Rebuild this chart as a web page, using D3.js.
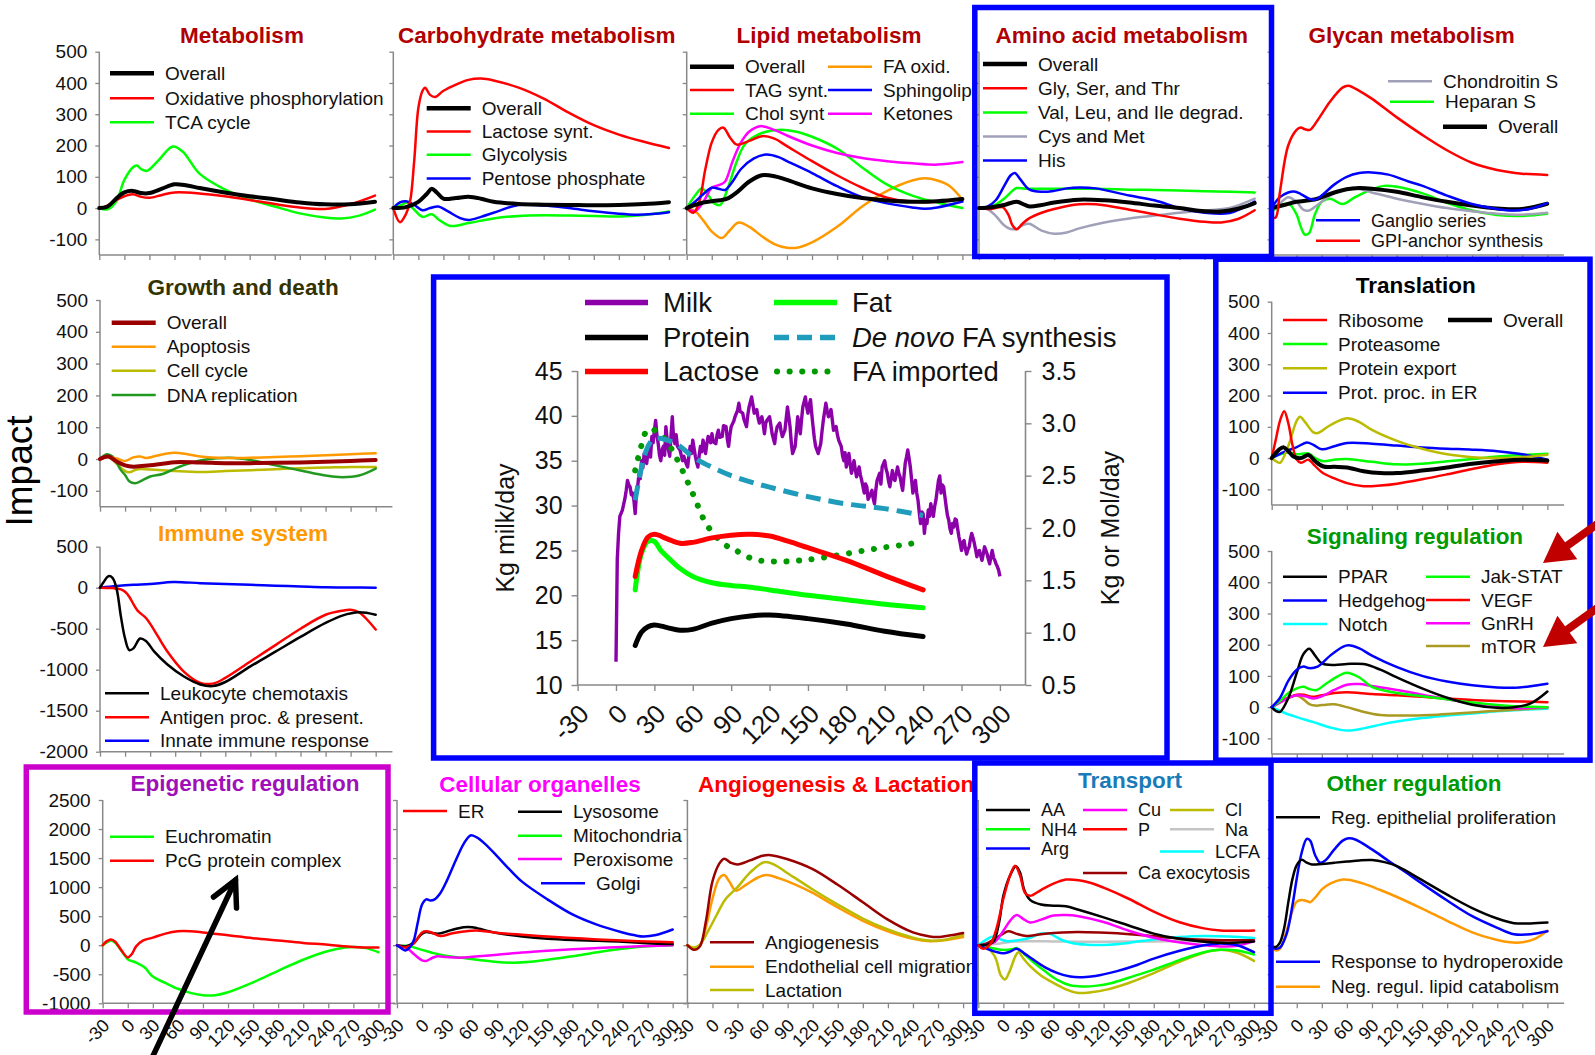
<!DOCTYPE html>
<html>
<head>
<meta charset="utf-8">
<script src="https://cdn.jsdelivr.net/npm/d3@7"></script>
<style>
  body { margin: 0; background: #ffffff; }
  svg { display: block; font-family: "Liberation Sans", Arial, sans-serif; }
</style>
</head>
<body>
<svg id="chart" width="1595" height="1055"></svg>
<script>
// ---------- tick values ----------
const dayTicks = [-30, 0, 30, 60, 90, 120, 150, 180, 210, 240, 270, 300];
const impactTicks = [-100, 0, 100, 200, 300, 400, 500];
const immuneTicks = [-2000, -1500, -1000, -500, 0, 500];
const wideTicks = [-1000, -500, 0, 500, 1000, 1500, 2000, 2500];
const milkTicks = [10, 15, 20, 25, 30, 35, 40, 45];
const molTicks = [0.5, 1.0, 1.5, 2.0, 2.5, 3.0, 3.5];

// ---------- series: [day, impact] ----------
// Metabolism
const metOverall = [[-30,0],[-20,5],[-10,30],[0,50],[10,55],[20,48],[30,48],[45,62],[60,76],[75,72],[90,64],[120,50],[150,38],[180,28],[210,18],[240,12],[270,12],[300,20]];
const metOxPhos = [[-30,0],[-20,8],[-10,25],[0,38],[10,44],[20,36],[30,33],[45,42],[60,50],[90,47],[120,38],[150,26],[180,13],[210,2],[240,-3],[270,12],[300,40]];
const metTCA = [[-30,0],[-20,-4],[-10,20],[0,90],[10,130],[15,136],[20,125],[27,119],[40,150],[58,197],[70,180],[90,110],[120,60],[150,28],[180,5],[210,-17],[240,-30],[260,-33],[280,-25],[300,-5]];
// Carbohydrate metabolism
const carbOverall = [[-30,0],[-15,3],[0,20],[10,45],[16,62],[22,50],[30,30],[45,32],[60,36],[75,30],[90,20],[120,13],[150,11],[180,10],[210,9],[240,10],[270,13],[300,19]];
const carbLactose = [[-30,0],[-22,-45],[-15,-20],[-10,20],[-5,150],[0,320],[5,375],[8,385],[14,362],[20,355],[30,375],[45,395],[60,410],[75,414],[90,408],[120,385],[150,350],[180,305],[210,265],[240,235],[270,212],[300,192]];
const carbGlycolysis = [[-30,0],[-20,10],[-14,18],[-5,-5],[5,-28],[16,-20],[25,-38],[38,-57],[60,-48],[90,-33],[120,-25],[150,-23],[180,-24],[210,-25],[240,-27],[270,-22],[300,-11]];
const carbPentose = [[-30,0],[-22,18],[-15,22],[-5,10],[5,-7],[14,0],[24,5],[35,-10],[50,-32],[60,-38],[75,-28],[90,-15],[120,10],[150,8],[180,0],[210,-10],[240,-18],[260,-21],[280,-19],[300,-13]];
// Lipid metabolism
const lipOverall = [[-30,0],[-20,10],[-10,18],[0,22],[10,25],[20,32],[30,50],[45,85],[60,105],[75,102],[90,90],[120,63],[150,45],[180,32],[210,24],[240,20],[270,22],[300,29]];
const lipTAG = [[-30,0],[-22,-15],[-15,20],[-8,120],[0,210],[8,250],[14,257],[22,225],[30,203],[45,215],[60,230],[75,222],[90,198],[120,150],[150,105],[180,65],[210,33],[240,20],[270,20],[300,30]];
const lipChol = [[-30,0],[-20,40],[-12,63],[-5,45],[3,15],[10,10],[20,70],[30,150],[40,205],[60,240],[80,250],[100,245],[120,228],[150,190],[180,130],[210,75],[240,40],[270,18],[300,0]];
const lipFAox = [[-30,0],[-20,-10],[-10,-40],[0,-75],[12,-96],[22,-70],[32,-46],[45,-60],[60,-90],[75,-115],[90,-127],[105,-125],[120,-110],[150,-60],[180,5],[210,55],[240,88],[255,95],[270,88],[285,70],[300,27]];
const lipSphingo = [[-30,0],[-20,20],[-10,45],[0,65],[8,62],[16,58],[25,85],[35,125],[50,158],[65,171],[80,163],[90,150],[120,112],[150,70],[180,35],[210,15],[240,2],[255,-2],[270,2],[300,21]];
const lipKetones = [[-30,0],[-20,-10],[-10,20],[0,65],[10,75],[16,85],[25,150],[35,210],[45,245],[58,262],[75,250],[90,232],[120,200],[150,176],[180,160],[210,150],[240,143],[270,139],[300,147]];
// Amino acid metabolism
const aaOverall = [[-30,0],[-15,3],[0,10],[15,20],[25,10],[31,5],[45,10],[60,18],[90,27],[120,25],[150,18],[180,8],[210,0],[240,-10],[260,-11],[280,-2],[300,16]];
const aaGlySerThr = [[-30,0],[-15,-3],[-2,3],[5,-20],[10,-55],[15,-68],[22,-50],[30,-33],[45,-15],[60,-3],[90,12],[110,12],[150,-5],[180,-20],[210,-34],[240,-44],[260,-46],[280,-35],[300,-7]];
const aaValLeuIle = [[-30,0],[-15,5],[0,30],[10,55],[15,64],[25,62],[45,62],[60,62],[90,62],[120,61],[150,59],[180,58],[210,56],[240,54],[270,52],[300,50]];
const aaCysMet = [[-30,0],[-20,-3],[-10,-25],[0,-55],[7,-66],[15,-67],[22,-55],[30,-50],[45,-72],[60,-82],[75,-78],[90,-65],[120,-46],[150,-33],[180,-24],[210,-15],[240,-8],[270,0],[300,30]];
const aaHis = [[-30,0],[-20,5],[-10,25],[0,70],[8,105],[13,112],[20,90],[30,60],[45,52],[60,55],[75,63],[90,66],[110,63],[150,40],[180,25],[210,0],[240,-15],[270,-16],[300,21]];
// Glycan metabolism
const glyChondroitin = [[-30,0],[-20,15],[-10,35],[0,20],[8,-5],[15,-8],[25,10],[40,40],[55,58],[68,64],[90,50],[120,30],[150,14],[180,0],[210,-10],[240,-18],[270,-21],[300,-15]];
const glyHeparan = [[-30,-10],[-20,5],[-10,15],[0,-20],[5,-60],[10,-85],[15,-80],[22,-20],[30,20],[40,30],[55,13],[70,35],[90,60],[105,71],[120,68],[150,48],[180,17],[210,-8],[240,-22],[270,-25],[300,-18]];
const glyOverall = [[-30,0],[-15,10],[0,20],[15,25],[25,30],[40,45],[60,60],[75,64],[90,62],[120,52],[150,35],[180,20],[210,8],[240,-1],[270,-3],[300,14]];
const glyGanglio = [[-30,0],[-20,35],[-10,50],[-3,53],[5,45],[15,30],[22,27],[30,40],[45,75],[60,100],[75,112],[90,114],[110,107],[134,85],[150,72],[180,40],[210,13],[240,-3],[260,-8],[280,-2],[300,16]];
const glyGPI = [[-30,-30],[-25,-30],[-20,50],[-10,200],[0,250],[5,258],[10,252],[16,250],[25,280],[40,340],[55,385],[62,391],[75,375],[90,350],[120,290],[150,235],[180,185],[210,145],[240,122],[270,110],[300,106]];
// Growth and death
const gdOverall = [[-30,0],[-20,8],[-10,-8],[0,-20],[10,-24],[20,-22],[30,-20],[45,-15],[60,-10],[90,-11],[120,-13],[150,-13],[180,-12],[210,-11],[240,-9],[270,-6],[300,-3]];
const gdApoptosis = [[-30,0],[-20,6],[-10,2],[0,-6],[10,5],[18,8],[25,3],[40,12],[58,20],[75,15],[90,8],[120,3],[150,4],[180,6],[210,9],[240,12],[270,15],[300,18]];
const gdCellCycle = [[-30,0],[-20,8],[-10,-15],[0,-38],[5,-42],[15,-32],[30,-33],[60,-38],[90,-41],[120,-38],[150,-35],[180,-32],[210,-29],[240,-27],[270,-25],[300,-25]];
const gdDNA = [[-30,0],[-22,15],[-15,8],[-5,-35],[0,-50],[5,-70],[12,-76],[20,-68],[30,-55],[45,-47],[60,-30],[75,-15],[90,-5],[110,2],[125,4],[150,-3],[180,-20],[210,-36],[240,-52],[260,-57],[280,-52],[300,-30]];
// Immune system
const imLeuko = [[-30,0],[-25,80],[-20,140],[-15,120],[-10,-20],[-5,-350],[0,-620],[5,-760],[10,-740],[18,-620],[25,-650],[35,-780],[50,-930],[70,-1080],[90,-1180],[105,-1200],[120,-1150],[150,-960],[180,-780],[210,-600],[240,-430],[260,-340],[280,-300],[300,-330]];
const imAntigen = [[-30,0],[-15,-5],[-5,-20],[0,-50],[5,-110],[10,-200],[15,-280],[25,-370],[35,-520],[50,-770],[70,-1020],[90,-1160],[105,-1170],[120,-1100],[150,-900],[180,-700],[210,-500],[240,-330],[260,-280],[270,-270],[280,-300],[300,-510]];
const imInnate = [[-30,0],[-10,20],[10,35],[30,45],[58,70],[90,55],[120,45],[150,35],[180,25],[210,15],[240,5],[270,2],[300,0]];
// Translation
const trRibosome = [[-30,0],[-25,60],[-20,120],[-15,150],[-10,110],[-5,40],[0,-5],[5,-15],[14,-5],[20,-20],[30,-45],[45,-65],[60,-80],[80,-90],[100,-88],[120,-82],[150,-68],[180,-52],[210,-35],[240,-20],[270,-12],[300,-15]];
const trProteasome = [[-30,0],[-20,12],[-10,18],[0,12],[14,15],[22,0],[32,-10],[45,-5],[60,-3],[90,-12],[120,-20],[150,-18],[180,-10],[210,-3],[240,5],[270,10],[300,14]];
const trExport = [[-30,0],[-25,-10],[-20,-15],[-10,40],[0,120],[4,132],[10,115],[20,82],[25,80],[40,105],[60,127],[75,115],[90,90],[120,55],[150,30],[180,12],[210,3],[240,0],[270,3],[300,11]];
const trER = [[-30,0],[-15,20],[0,35],[12,50],[20,42],[30,28],[45,38],[60,48],[90,46],[120,40],[150,34],[180,30],[210,27],[240,22],[270,12],[300,-5]];
const trOverall = [[-30,0],[-22,25],[-16,35],[-10,22],[-4,5],[5,0],[14,10],[22,-10],[32,-27],[45,-28],[60,-30],[80,-42],[100,-48],[120,-48],[150,-40],[180,-30],[210,-18],[240,-10],[270,-5],[300,-8]];
// Signaling regulation
const sgPPAR = [[-30,0],[-25,-12],[-20,-15],[-10,30],[0,110],[8,170],[15,187],[22,165],[30,140],[45,135],[60,138],[80,138],[100,120],[120,95],[150,60],[180,30],[210,8],[240,-2],[260,0],[280,12],[300,50]];
const sgHedgehog = [[-30,0],[-20,30],[-10,85],[0,120],[8,130],[15,125],[25,130],[40,165],[55,193],[62,198],[75,188],[90,165],[120,128],[150,100],[180,82],[210,70],[240,63],[260,62],[280,67],[300,75]];
const sgNotch = [[-30,0],[-15,-18],[0,-32],[20,-48],[40,-65],[60,-75],[80,-68],[100,-56],[120,-46],[150,-35],[180,-27],[210,-20],[240,-13],[270,-8],[300,-5]];
const sgJakStat = [[-30,0],[-20,20],[-10,45],[0,60],[8,65],[15,58],[24,55],[35,75],[50,100],[60,110],[75,95],[90,65],[120,45],[150,35],[180,25],[210,15],[240,7],[270,2],[300,0]];
const sgVEGF = [[-30,0],[-20,18],[-10,30],[0,40],[8,40],[18,33],[30,38],[45,45],[60,48],[90,42],[120,38],[150,33],[180,28],[210,23],[240,20],[270,18],[300,16]];
const sgGnRH = [[-30,0],[-20,15],[-10,30],[0,38],[10,35],[20,28],[30,35],[45,55],[60,72],[75,74],[90,68],[120,55],[150,40],[180,25],[210,12],[240,2],[260,-3],[280,-2],[300,0]];
const sgMTOR = [[-30,0],[-20,15],[-10,30],[0,37],[8,25],[15,10],[22,5],[35,8],[45,9],[60,0],[80,-15],[100,-25],[130,-27],[160,-25],[190,-20],[220,-15],[250,-10],[280,-5],[300,-2]];
// Epigenetic regulation
const epEuchromatin = [[-30,0],[-25,50],[-20,80],[-15,40],[-5,-150],[0,-240],[10,-300],[20,-380],[30,-540],[45,-650],[60,-750],[75,-820],[90,-860],[105,-860],[120,-810],[150,-640],[180,-440],[210,-250],[240,-100],[260,-40],[270,-30],[285,-50],[300,-120]];
const epPcG = [[-30,0],[-25,70],[-20,100],[-15,60],[-8,-80],[0,-210],[5,-150],[10,-20],[18,80],[30,130],[45,200],[60,240],[75,240],[90,220],[120,170],[150,120],[180,80],[210,40],[240,10],[270,-30],[300,-40]];
// Cellular organelles
const coER = [[-30,0],[-20,-40],[-10,30],[0,220],[5,240],[12,215],[22,160],[35,200],[50,235],[65,252],[80,230],[100,200],[120,180],[150,150],[180,125],[210,100],[240,80],[270,65],[300,52]];
const coLysosome = [[-30,0],[-20,-20],[-10,40],[0,200],[5,228],[12,210],[20,200],[35,260],[50,310],[60,310],[75,260],[90,210],[120,150],[150,110],[180,88],[210,75],[240,60],[270,35],[300,20]];
const coMito = [[-30,0],[-15,-20],[0,-80],[15,-140],[30,-185],[50,-220],[70,-260],[90,-290],[110,-300],[130,-285],[150,-250],[180,-190],[210,-120],[240,-60],[270,-20],[300,0]];
const coPerox = [[-30,0],[-20,-30],[-10,-150],[0,-260],[5,-270],[12,-220],[18,-190],[30,-205],[45,-215],[60,-200],[90,-165],[120,-125],[150,-95],[180,-70],[210,-50],[240,-30],[270,-15],[300,0]];
const coGolgi = [[-30,0],[-25,-50],[-20,-90],[-15,-40],[-10,80],[-5,400],[0,700],[5,790],[10,770],[15,790],[22,900],[30,1120],[40,1450],[50,1750],[58,1890],[65,1860],[75,1750],[90,1530],[105,1300],[120,1090],[150,790],[180,530],[210,350],[240,220],[255,170],[265,150],[280,175],[300,270]];
// Angiogenesis & Lactation
const anAngio = [[-30,0],[-22,-80],[-15,-20],[-8,400],[0,1100],[8,1400],[14,1490],[22,1420],[30,1390],[45,1460],[60,1540],[70,1550],[90,1480],[120,1310],[150,1040],[180,740],[210,440],[240,220],[260,150],[270,140],[285,170],[300,210]];
const anEndo = [[-30,0],[-22,-60],[-15,0],[-8,300],[0,800],[8,1150],[14,1210],[20,1100],[28,940],[40,1040],[55,1170],[65,1210],[80,1150],[100,1040],[120,900],[150,650],[180,420],[210,240],[240,110],[260,70],[280,90],[300,140]];
const anLact = [[-30,0],[-22,-40],[-15,10],[-5,250],[5,520],[15,780],[30,1000],[45,1250],[62,1430],[75,1380],[90,1240],[120,960],[150,700],[180,460],[210,270],[240,130],[260,80],[280,100],[300,180]];
// Transport
const tpAA = [[-30,0],[-20,10],[-12,60],[-5,400],[0,850],[8,1200],[15,1360],[20,1250],[25,950],[32,780],[45,700],[60,680],[75,670],[90,610],[120,480],[150,340],[180,200],[210,110],[240,60],[270,40],[300,65]];
const tpNH4 = [[-30,0],[-20,-30],[-10,-60],[0,-80],[10,-70],[16,-50],[25,-150],[35,-280],[50,-450],[65,-600],[80,-690],[95,-710],[110,-700],[130,-650],[150,-560],[180,-420],[210,-260],[240,-120],[260,-80],[280,-90],[300,-160]];
const tpArg = [[-30,0],[-20,-60],[-10,-110],[0,-140],[8,-110],[16,-60],[25,-140],[35,-240],[50,-380],[65,-480],[80,-540],[95,-550],[110,-530],[135,-450],[160,-340],[180,-230],[210,-100],[240,0],[260,30],[280,0],[300,-120]];
const tpCu = [[-30,0],[-20,10],[-10,60],[0,250],[8,420],[16,520],[24,450],[32,390],[45,440],[60,510],[75,520],[90,500],[120,400],[150,250],[180,130],[210,50],[240,0],[260,-20],[280,-10],[300,70]];
const tpP = [[-30,0],[-24,-60],[-15,30],[-8,300],[0,800],[8,1200],[14,1370],[20,1200],[26,900],[32,850],[45,950],[60,1060],[75,1130],[90,1120],[105,1070],[120,990],[150,800],[180,580],[210,400],[240,290],[260,255],[280,250],[300,255]];
const tpCaExo = [[-30,0],[-20,30],[-10,110],[0,200],[6,240],[15,200],[28,160],[45,190],[60,210],[80,225],[100,225],[130,210],[160,180],[190,140],[220,105],[250,90],[280,85],[300,85]];
const tpCl = [[-30,0],[-20,-40],[-10,-200],[-3,-520],[2,-590],[8,-430],[14,-200],[18,-120],[24,-230],[32,-360],[45,-520],[60,-650],[75,-760],[88,-820],[105,-810],[125,-760],[150,-650],[180,-480],[210,-290],[240,-130],[260,-80],[280,-130],[300,-270]];
const tpNa = [[-30,0],[-10,20],[10,60],[30,70],[60,65],[90,60],[120,60],[150,62],[180,65],[210,68],[240,70],[270,70],[300,70]];
const tpLCFA = [[-30,0],[-20,100],[-12,150],[-5,110],[4,70],[15,80],[30,120],[45,200],[55,200],[70,90],[85,30],[100,10],[120,5],[150,40],[180,100],[210,140],[240,160],[270,150],[300,125]];
// Other regulation
const orEpith = [[-30,-20],[-25,-30],[-20,50],[-15,300],[-10,750],[-5,1150],[0,1380],[6,1470],[12,1420],[18,1390],[30,1400],[45,1420],[60,1440],[75,1460],[90,1465],[105,1430],[120,1360],[150,1120],[180,870],[210,640],[240,460],[260,380],[280,375],[300,390]];
const orHydro = [[-30,-30],[-25,-60],[-20,-40],[-12,200],[-5,700],[0,1150],[6,1600],[12,1830],[16,1800],[22,1550],[28,1420],[35,1470],[45,1650],[55,1800],[62,1840],[70,1820],[90,1650],[110,1450],[130,1260],[150,1060],[180,770],[210,500],[240,300],[260,190],[280,190],[300,240]];
const orLipidCat = [[-30,-30],[-25,-90],[-20,-60],[-12,250],[-5,600],[0,750],[6,780],[12,760],[16,740],[22,820],[30,960],[40,1060],[55,1130],[65,1120],[80,1060],[100,950],[120,830],[150,630],[180,420],[210,220],[240,90],[255,50],[270,50],[285,110],[300,250]];

// ---------- lactation curve: [day, kg/day] (left axis) and [day, kg or mol/day] (right axis) ----------
const milkYield = [[0,12.6],[1,24],[2,26.9],[3,28.8],[5,29.5],[7,30.8],[8,31.7],[9,32.8],[10,32.3],[11,32.1],[12,31.2],[13,31.4],[14,30.6],[15,29.1],[16,31.4],[17,32.2],[18,33.6],[19,33.0],[20,35],[21,34.2],[22,35.8],[23,35.1],[24,34.7],[25,36.0],[26,36.2],[27,35.4],[28,37.7],[29,37.0],[30,38.4],[31,39.5],[32,37.8],[33,36.9],[34,35.6],[35,35],[36,36.2],[37,36.6],[38,35.6],[39,38.8],[40,37.3],[41,36.2],[42,35.5],[43,37.8],[44,39.9],[45,37.5],[46,36.9],[47,37.9],[48,36.6],[50,36.2],[52,35.0],[53,35.5],[55,34.6],[56,34.3],[57,35.6],[58,36.6],[59,35.8],[60,37.3],[61,36.4],[62,35.5],[63,34.8],[64,34.3],[65,35.6],[66,36.6],[67,36.0],[68,37.3],[69,36.6],[70,35.8],[71,36.9],[72,37.7],[74,37.0],[75,38],[76,37.1],[78,36.9],[79,37.9],[80,38.4],[81,37.6],[83,37.7],[84,38.9],[86,38.8],[87,37.4],[88,36.6],[89,37.9],[90,38.8],[92,39.4],[93,39.9],[95,40.6],[96,41.4],[97,40.5],[99,40.3],[100,39.6],[102,38.8],[103,40.1],[104,41],[106,42.1],[107,41.2],[108,40.3],[110,40.7],[111,39.8],[112,39.2],[114,39.9],[115,39.1],[116,38],[117,39.2],[118,39.5],[120,39.9],[121,39.0],[122,38],[124,36.9],[125,38.1],[126,38.8],[128,39.2],[129,38.3],[130,37.7],[132,38.4],[134,41],[135,39.9],[136,38.8],[137,37.0],[138,35.8],[140,36.6],[141,38.2],[142,39.9],[144,38],[145,39.6],[146,41],[148,42.1],[149,41.0],[150,40.3],[151,41.2],[152,41.8],[153,40.2],[154,38.8],[155,37.5],[156,36.6],[158,35.8],[160,36.9],[161,38.3],[162,39.5],[164,41.4],[165,40.6],[166,39.9],[168,40.7],[169,39.6],[170,38.4],[172,38.8],[173,37.9],[174,37.3],[176,36.6],[177,35.6],[178,35],[179,35.9],[180,34.3],[182,35.8],[183,34.6],[184,33.6],[186,35],[187,34.0],[188,33.2],[190,34.3],[191,33.4],[192,32.8],[194,31.4],[195,32.4],[196,32.1],[197,30.7],[198,31],[200,31.7],[201,30.8],[202,30.2],[203,31.7],[204,32.8],[206,33.6],[207,32.4],[208,34.3],[210,35],[211,34.1],[212,33.6],[213,32.7],[214,32.1],[216,33.9],[217,33.0],[218,32.8],[220,34.3],[221,33.6],[222,33.2],[223,32.4],[224,31.7],[225,33.2],[226,34.7],[227,35.4],[228,36.2],[229,35.3],[230,34.3],[231,32.9],[232,31.4],[233,32.1],[234,32.8],[235,31.4],[236,30.6],[237,29.2],[238,28],[239,29.3],[240,29.1],[241,26.9],[242,28.4],[243,28.0],[244,29.5],[245,28.8],[246,30.2],[247,29.4],[248,28.8],[249,29.9],[250,30.6],[251,31.7],[252,32.8],[253,33.3],[254,31.4],[255,32.3],[256,32.1],[257,31.0],[258,29.9],[259,28.9],[260,28.4],[261,27.4],[262,26.9],[263,28.0],[264,27.6],[265,28.5],[266,28.4],[267,27.4],[268,26.5],[269,25.8],[270,25],[271,25.9],[272,26.1],[273,25.2],[274,24.6],[275,25.1],[276,25.4],[277,26.3],[278,26.9],[279,26.4],[280,25.8],[281,25.1],[282,24.3],[283,24.9],[284,25],[285,24.4],[286,23.9],[287,24.6],[288,25.4],[289,25.0],[290,24.6],[291,24.0],[292,23.5],[293,24.3],[294,25],[295,24.2],[296,23.9],[297,23.5],[298,23.2],[299,22.8],[300,22.1]];
const lactoseYield = [[15,22.1],[20,25],[25,26.5],[30,26.8],[40,26.3],[50,25.8],[60,25.9],[75,26.4],[90,26.7],[105,26.8],[120,26.6],[135,26],[150,25.3],[180,23.9],[210,22.2],[240,20.6]];
const fatYield = [[15,20.6],[20,24.7],[25,26],[30,26],[35,25],[40,24.3],[50,23],[60,22.1],[75,21.4],[90,21.1],[105,20.9],[120,20.6],[150,20],[180,19.5],[210,19],[240,18.6]];
const proteinYield = [[15,14.4],[20,15.9],[25,16.5],[30,16.7],[40,16.4],[50,16.1],[60,16.2],[75,16.9],[90,17.4],[105,17.7],[120,17.8],[150,17.4],[180,16.8],[210,16],[240,15.4]];
const deNovoFA = [[15,2.265],[20,2.58],[25,2.78],[30,2.855],[40,2.84],[50,2.78],[60,2.68],[75,2.58],[90,2.5],[105,2.44],[120,2.39],[150,2.3],[180,2.23],[210,2.185],[240,2.12]];
const importedFA = [[15,2.55],[19,2.75],[24,2.93],[28,2.95],[33,2.9],[39,2.84],[45,2.72],[50,2.6],[60,2.33],[71,2.03],[84,1.85],[93,1.79],[108,1.7],[125,1.68],[144,1.69],[164,1.72],[187,1.77],[207,1.81],[225,1.84],[240,1.87]];

// ---------- colours ----------
const K = "#000000", R = "#ff0000", G = "#00ff00", B = "#0000ff", O = "#ff9900", M = "#ff00ff";
const GRY = "#a0a0b8", DR = "#990000", OL = "#bbbb00", DG = "#229a22", CY = "#00ffff", MT = "#aa9a22", LG = "#c4c4c4";
const FRAME_BLUE = "#0000ff", FRAME_PURPLE = "#cc00cc";

const svg = d3.select("#chart");
const FONT = '"Liberation Sans", Arial, sans-serif';
const AXIS = "#888888";
const SPAN = 292.4;          // pixel width of the -30..320 day range in the small panels
const X_DOMAIN = [-30, 320];
const plain = d => String(d);   // ASCII hyphen for negative labels

// ---------- panel layout ----------
const SMALL = [-150, 500];
const panels = [
  { title: "Metabolism", tc: "#b00000", tx: 242, ty: 43, x0: 99.3, yr: [255, 51.7], dom: SMALL, yt: impactTicks, yl: true, xl: false,
    series: [[metTCA, G, 2.5], [metOxPhos, R, 2.5], [metOverall, K, 4]],
    legend: [["Overall", K, 4.5, 110, 73.3], ["Oxidative phosphorylation", R, 2.5, 110, 98.3], ["TCA cycle", G, 2.5, 110, 122.3]] },
  { title: "Carbohydrate metabolism", tc: "#b00000", tx: 536.7, ty: 43, x0: 393.3, yr: [255, 51.7], dom: SMALL, yt: impactTicks, yl: false, xl: false,
    series: [[carbGlycolysis, G, 2.5], [carbPentose, B, 2.5], [carbLactose, R, 2.5], [carbOverall, K, 4]],
    legend: [["Overall", K, 4.5, 426.7, 108.3], ["Lactose synt.", R, 2.5, 426.7, 131.5], ["Glycolysis", G, 2.5, 426.7, 154.8], ["Pentose phosphate", B, 2.5, 426.7, 178.5]] },
  { title: "Lipid metabolism", tc: "#b00000", tx: 829, ty: 43, x0: 686.7, yr: [255, 51.7], dom: SMALL, yt: impactTicks, yl: false, xl: false,
    series: [[lipFAox, O, 2.5], [lipChol, G, 2.5], [lipKetones, M, 2.5], [lipTAG, R, 2.5], [lipSphingo, B, 2.5], [lipOverall, K, 4]],
    legend: [["Overall", K, 4.5, 690, 66.7], ["TAG synt.", R, 2.5, 690, 90], ["Chol synt", G, 2.5, 690, 113.8],
             ["FA oxid.", O, 2.5, 828, 66.7], ["Sphingolipids", B, 2.5, 828, 90], ["Ketones", M, 2.5, 828, 113.8]] },
  { title: "Amino acid metabolism", tc: "#b00000", tx: 1121.7, ty: 43, x0: 979, yr: [255, 51.7], dom: SMALL, yt: impactTicks, yl: false, xl: false,
    frame: { x: 974.8, y: 7.5, w: 296.7, h: 249, c: FRAME_BLUE },
    series: [[aaCysMet, GRY, 2.5], [aaValLeuIle, G, 2.5], [aaGlySerThr, R, 2.5], [aaHis, B, 2.5], [aaOverall, K, 4]],
    legend: [["Overall", K, 4.5, 983, 64], ["Gly, Ser, and Thr", R, 2.5, 983, 88.2], ["Val, Leu, and Ile degrad.", G, 2.5, 983, 112.5],
             ["Cys and Met", GRY, 2.5, 983, 136.5], ["His", B, 2.5, 983, 160.5]] },
  { title: "Glycan metabolism", tc: "#b00000", tx: 1411.7, ty: 43, x0: 1271.5, yr: [255, 51.7], dom: SMALL, yt: impactTicks, yl: false, xl: false,
    series: [[glyHeparan, G, 2.5], [glyChondroitin, GRY, 2.5], [glyOverall, K, 4], [glyGanglio, B, 2.5], [glyGPI, R, 2.5]],
    legend: [["Chondroitin S", GRY, 2.5, 1388, 81.2], ["Heparan S", G, 2.5, 1390, 101.7], ["Overall", K, 4.5, 1443, 126.7],
             ["Ganglio series", B, 2.5, 1316, 220.3, 18], ["GPI-anchor synthesis", R, 2.5, 1316, 240.8, 18]] },
  { title: "Growth and death", tc: "#333300", tx: 243, ty: 295, x0: 100, yr: [506.7, 300], dom: SMALL, yt: impactTicks, yl: true, xl: false,
    series: [[gdCellCycle, OL, 2.5], [gdDNA, DG, 2.5], [gdApoptosis, O, 2.5], [gdOverall, DR, 4]],
    legend: [["Overall", DR, 4.5, 111.7, 322.7], ["Apoptosis", O, 2.5, 111.7, 346.7], ["Cell cycle", OL, 2.5, 111.7, 370.7], ["DNA replication", DG, 2.5, 111.7, 395]] },
  { title: "Immune system", tc: "#ff9900", tx: 243, ty: 541, x0: 100, yr: [751.7, 546.7], dom: [-2000, 500], yt: immuneTicks, yl: true, xl: false,
    series: [[imInnate, B, 2.5], [imAntigen, R, 2.5], [imLeuko, K, 2.5]],
    legend: [["Leukocyte chemotaxis", K, 2.5, 105, 693.3], ["Antigen proc. & present.", R, 2.5, 105, 717.3], ["Innate immune response", B, 2.5, 105, 740.7]] },
  { title: "Translation", tc: "#000000", tx: 1415.8, ty: 293, x0: 1271.7, yr: [505, 301.7], dom: SMALL, yt: impactTicks, yl: true, xl: false,
    frame: { x: 1215.8, y: 259.2, w: 374.2, h: 501, c: FRAME_BLUE },
    series: [[trProteasome, G, 2.5], [trER, B, 2.5], [trExport, OL, 2.5], [trRibosome, R, 2.5], [trOverall, K, 4]],
    legend: [["Ribosome", R, 2.5, 1283, 320], ["Proteasome", G, 2.5, 1283, 344], ["Protein export", OL, 2.5, 1283, 368.3],
             ["Prot. proc. in ER", B, 2.5, 1283, 392.7], ["Overall", K, 4.5, 1448, 320]] },
  { title: "Signaling regulation", tc: "#009900", tx: 1415, ty: 544, x0: 1271.7, yr: [754, 551], dom: SMALL, yt: impactTicks, yl: true, xl: false,
    series: [[sgNotch, CY, 2.5], [sgMTOR, MT, 2.5], [sgVEGF, R, 2.5], [sgGnRH, M, 2.5], [sgJakStat, G, 2.5], [sgPPAR, K, 2.5], [sgHedgehog, B, 2.5]],
    legend: [["PPAR", K, 2.5, 1283, 576.7], ["Hedgehog", B, 2.5, 1283, 600.5], ["Notch", CY, 2.5, 1283, 624],
             ["Jak-STAT", G, 2.5, 1426, 576.7], ["VEGF", R, 2.5, 1426, 600], ["GnRH", M, 2.5, 1426, 623.3], ["mTOR", MT, 2.5, 1426, 646]] },
  { title: "Epigenetic regulation", tc: "#a010b8", tx: 245, ty: 791, x0: 102.7, yr: [1003.3, 800], dom: [-1000, 2500], yt: wideTicks, yl: true, xl: true,
    frame: { x: 26.3, y: 767, w: 361.7, h: 245, c: FRAME_PURPLE },
    series: [[epEuchromatin, G, 2.5], [epPcG, R, 2.5]],
    legend: [["Euchromatin", G, 2.5, 110, 836.7], ["PcG protein complex", R, 2.5, 110, 860.7]] },
  { title: "Cellular organelles", tc: "#ff00ff", tx: 540, ty: 792, x0: 397, yr: [1003.3, 800], dom: [-1000, 2500], yt: wideTicks, yl: false, xl: true,
    series: [[coMito, G, 2.5], [coPerox, M, 2.5], [coLysosome, K, 2.5], [coER, R, 2.5], [coGolgi, B, 2.5]],
    legend: [["ER", R, 2.5, 403, 811], ["Lysosome", K, 2.5, 518, 811.7], ["Mitochondria", G, 2.5, 518, 835.7], ["Peroxisome", M, 2.5, 518, 859], ["Golgi", B, 2.5, 541, 883.3]] },
  { title: "Angiogenesis & Lactation", tc: "#ff0000", tx: 698, ty: 792, anchor: "start", x0: 687.4, yr: [1003.3, 800], dom: [-1000, 2500], yt: wideTicks, yl: false, xl: true,
    series: [[anEndo, O, 2.5], [anLact, OL, 2.5], [anAngio, DR, 2.5]],
    legend: [["Angiogenesis", DR, 2.5, 710, 942.3], ["Endothelial cell migration", O, 2.5, 710, 966.7], ["Lactation", OL, 2.5, 710, 990]] },
  { title: "Transport", tc: "#1a7bb8", tx: 1130, ty: 788, x0: 978.3, yr: [1003.3, 800], dom: [-1000, 2500], yt: wideTicks, yl: false, xl: true,
    frame: { x: 974.8, y: 763, w: 296.2, h: 250.3, c: FRAME_BLUE },
    series: [[tpNa, LG, 2.5], [tpLCFA, CY, 2.5], [tpCaExo, DR, 2.5], [tpCu, M, 2.5], [tpCl, OL, 2.5], [tpNH4, G, 2.5], [tpArg, B, 2.5], [tpAA, K, 2.5], [tpP, R, 2.5]],
    legend: [["AA", K, 2.5, 986, 810, 18], ["NH4", G, 2.5, 986, 829.3, 18], ["Arg", B, 2.5, 986, 848.6, 18],
             ["Cu", M, 2.5, 1083, 810, 18], ["P", R, 2.5, 1083, 829.3, 18], ["Ca exocytosis", DR, 2.5, 1083, 873, 18],
             ["Cl", OL, 2.5, 1170, 810, 18], ["Na", LG, 2.5, 1170, 829.3, 18], ["LCFA", CY, 2.5, 1160, 851.5, 18]] },
  { title: "Other regulation", tc: "#009900", tx: 1414, ty: 791, x0: 1271.7, yr: [1003.3, 800], dom: [-1000, 2500], yt: wideTicks, yl: false, xl: true,
    series: [[orLipidCat, O, 2.5], [orHydro, B, 2.5], [orEpith, K, 2.5]],
    legend: [["Reg. epithelial proliferation", K, 2.5, 1276, 817.3], ["Response to hydroperoxide", B, 2.5, 1276, 961.7], ["Neg. regul. lipid catabolism", O, 2.5, 1276, 986.7]] }
];

const frameStrokes = [];

function drawPanel(p) {
  const g = svg.append("g");
  if (p.frame) {
    g.append("rect").attr("x", p.frame.x).attr("y", p.frame.y).attr("width", p.frame.w).attr("height", p.frame.h).attr("fill", "#ffffff");
    frameStrokes.push(p.frame);
  }
  const x = d3.scaleLinear().domain(X_DOMAIN).range([p.x0, p.x0 + SPAN]);
  const y = d3.scaleLinear().domain(p.dom).range(p.yr);

  // y axis
  const yAxis = d3.axisLeft(y).tickValues(p.yt).tickSize(4).tickPadding(8).tickFormat(p.yl ? plain : "");
  const ya = g.append("g").attr("transform", `translate(${p.x0},0)`).call(yAxis);
  ya.select(".domain").attr("stroke", AXIS).attr("stroke-width", 1.5).attr("d", `M0,${y(p.dom[0])}V${y(p.yt[p.yt.length - 1])}`);
  ya.selectAll(".tick line").attr("stroke", AXIS).attr("stroke-width", 1.3);
  ya.selectAll(".tick text").attr("font-size", 19).attr("font-family", FONT).attr("fill", "#111");

  // x axis
  const xAxis = d3.axisBottom(x).tickValues(dayTicks).tickSize(5).tickFormat(p.xl ? plain : "");
  const xa = g.append("g").attr("transform", `translate(0,${y(p.dom[0])})`).call(xAxis);
  xa.select(".domain").attr("stroke", AXIS).attr("stroke-width", 1.5).attr("d", `M${x(-30)},0H${x(320)}`);
  xa.selectAll(".tick line").attr("stroke", AXIS).attr("stroke-width", 1.3);
  xa.selectAll(".tick text")
    .attr("font-size", 18).attr("font-family", FONT).attr("fill", "#111")
    .attr("text-anchor", "end").attr("y", 0).attr("dy", "0.35em")
    .attr("transform", "translate(3,19) rotate(-45)");

  // title
  g.append("text").attr("x", p.tx).attr("y", p.ty).attr("text-anchor", p.anchor || "middle")
    .attr("font-size", 22.5).attr("font-weight", "bold").attr("font-family", FONT).attr("fill", p.tc).text(p.title);

  // series
  const line = d3.line().x(d => x(d[0])).y(d => y(d[1])).curve(d3.curveCatmullRom.alpha(0.5));
  p.series.forEach(([data, color, w]) => {
    g.append("path").datum(data).attr("d", line).attr("fill", "none").attr("stroke", color)
      .attr("stroke-width", w).attr("stroke-linejoin", "round").attr("stroke-linecap", "round");
  });

  // legend
  p.legend.forEach(([label, color, w, lx, ly, fs]) => {
    g.append("line").attr("x1", lx).attr("x2", lx + 44).attr("y1", ly).attr("y2", ly).attr("stroke", color).attr("stroke-width", w);
    g.append("text").attr("x", lx + 55).attr("y", ly).attr("dy", "0.35em").attr("font-size", fs || 19).attr("font-family", FONT).attr("fill", "#111").text(label);
  });
}

// ---------- central lactation panel ----------
function drawCenter() {
  const fr = { x: 433.6, y: 277, w: 733.4, h: 481, c: FRAME_BLUE };
  const g = svg.append("g");
  g.append("rect").attr("x", fr.x).attr("y", fr.y).attr("width", fr.w).attr("height", fr.h).attr("fill", "#ffffff");
  frameStrokes.push(fr);

  const x = d3.scaleLinear().domain(X_DOMAIN).range([577.6, 1025.5]);
  const yL = d3.scaleLinear().domain([10, 45]).range([685, 371]);
  const yR = d3.scaleLinear().domain([0.5, 3.5]).range([685, 371]);

  const la = g.append("g").attr("transform", "translate(577.6,0)").call(d3.axisLeft(yL).tickValues(milkTicks).tickSize(6).tickPadding(9));
  const ra = g.append("g").attr("transform", "translate(1025.5,0)").call(d3.axisRight(yR).tickValues(molTicks).tickSize(6).tickPadding(10).tickFormat(d3.format(".1f")));
  const xa = g.append("g").attr("transform", "translate(0,685)").call(d3.axisBottom(x).tickValues(dayTicks).tickSize(6).tickFormat(plain));
  [la, ra, xa].forEach(a => {
    a.select(".domain").attr("stroke", AXIS).attr("stroke-width", 1.6);
    a.selectAll(".tick line").attr("stroke", AXIS).attr("stroke-width", 1.4);
    a.selectAll(".tick text").attr("font-size", 25).attr("font-family", FONT).attr("fill", "#111");
  });
  la.select(".domain").attr("d", "M0,685V371");
  ra.select(".domain").attr("d", "M0,685V371");
  xa.select(".domain").attr("d", `M${x(-30)},0H${x(320)}`);
  xa.selectAll(".tick text").attr("font-size", 26).attr("text-anchor", "end").attr("y", 0).attr("dy", "0.35em").attr("transform", "translate(6,24) rotate(-45)");

  g.append("text").attr("transform", "translate(514,528) rotate(-90)").attr("text-anchor", "middle")
    .attr("font-size", 25).attr("font-family", FONT).attr("fill", "#111").text("Kg milk/day");
  g.append("text").attr("transform", "translate(1119,528) rotate(-90)").attr("text-anchor", "middle")
    .attr("font-size", 25).attr("font-family", FONT).attr("fill", "#111").text("Kg or Mol/day");

  const smooth = d3.curveCatmullRom.alpha(0.5);
  const lineL = d3.line().x(d => x(d[0])).y(d => yL(d[1])).curve(smooth);
  const lineR = d3.line().x(d => x(d[0])).y(d => yR(d[1])).curve(smooth);
  const milkLine = d3.line().x(d => x(d[0])).y(d => yL(d[1]));

  g.append("path").datum(milkYield).attr("d", milkLine).attr("fill", "none").attr("stroke", "#8c00aa").attr("stroke-width", 3.4).attr("stroke-linejoin", "round");
  g.append("path").datum(importedFA).attr("d", lineR).attr("fill", "none").attr("stroke", "#009a00").attr("stroke-width", 6)
    .attr("stroke-linecap", "round").attr("stroke-dasharray", "0.1 12.5");
  g.append("path").datum(deNovoFA).attr("d", lineR).attr("fill", "none").attr("stroke", "#1f9bbb").attr("stroke-width", 5).attr("stroke-dasharray", "15 8");
  g.append("path").datum(proteinYield).attr("d", lineL).attr("fill", "none").attr("stroke", K).attr("stroke-width", 5).attr("stroke-linecap", "round");
  g.append("path").datum(fatYield).attr("d", lineL).attr("fill", "none").attr("stroke", G).attr("stroke-width", 5).attr("stroke-linecap", "round");
  g.append("path").datum(lactoseYield).attr("d", lineL).attr("fill", "none").attr("stroke", R).attr("stroke-width", 5).attr("stroke-linecap", "round");

  // legend
  const leg = [
    ["Milk", "#8c00aa", 585, 302.5, null], ["Protein", K, 585, 337.5, null], ["Lactose", R, 585, 371.5, null],
    ["Fat", G, 774, 302.5, null], ["De novo FA synthesis", "#1f9bbb", 774, 337.5, "15 8"], ["FA imported", "#009a00", 774, 371.5, "0.1 12.5"]
  ];
  leg.forEach(([label, color, lx, ly, dash]) => {
    const l = g.append("line").attr("x1", lx).attr("x2", lx + 63).attr("y1", ly).attr("y2", ly).attr("stroke", color)
      .attr("stroke-width", dash === "0.1 12.5" ? 6 : 5.5);
    if (dash) l.attr("stroke-dasharray", dash);
    if (dash === "0.1 12.5") l.attr("stroke-linecap", "round").attr("x1", lx + 3);
    const t = g.append("text").attr("x", lx + 78).attr("y", ly).attr("dy", "0.35em").attr("font-size", 27.5).attr("font-family", FONT).attr("fill", "#111");
    if (label.startsWith("De novo")) {
      t.append("tspan").attr("font-style", "italic").text("De novo");
      t.append("tspan").text(" FA synthesis");
    } else {
      t.text(label);
    }
  });
}

// draw in stacking order
panels.slice(0, 7).forEach(drawPanel);
drawCenter();
panels.slice(7).forEach(drawPanel);

// y-axis caption shared by the left column
svg.append("text").attr("transform", "translate(32,471) rotate(-90)").attr("text-anchor", "middle")
  .attr("font-size", 37).attr("font-family", FONT).attr("fill", "#000").text("Impact");

// highlight frames on top
frameStrokes.forEach(f => {
  svg.append("rect").attr("x", f.x).attr("y", f.y).attr("width", f.w).attr("height", f.h)
    .attr("fill", "none").attr("stroke", f.c).attr("stroke-width", 5.5);
});

// pointer arrows
function filledArrow(x1, y1, x2, y2, color, width, headLen, headHalf) {
  const dx = x2 - x1, dy = y2 - y1, len = Math.hypot(dx, dy);
  const ux = dx / len, uy = dy / len, nx = -uy, ny = ux;
  const bx = x2 - ux * headLen, by = y2 - uy * headLen;
  svg.append("line").attr("x1", x1).attr("y1", y1).attr("x2", bx + ux * 2).attr("y2", by + uy * 2).attr("stroke", color).attr("stroke-width", width);
  svg.append("path").attr("d", `M${x2},${y2}L${bx + nx * headHalf},${by + ny * headHalf}L${bx - nx * headHalf},${by - ny * headHalf}Z`).attr("fill", color);
}
filledArrow(1600, 522, 1543, 563, "#c00000", 8, 30, 17);
filledArrow(1600, 606, 1543, 647, "#c00000", 8, 30, 17);

// black pointer to the PcG protein complex entry
(function () {
  const x1 = 152, y1 = 1058, x2 = 235.5, y2 = 880;
  svg.append("line").attr("x1", x1).attr("y1", y1).attr("x2", x2).attr("y2", y2).attr("stroke", "#000").attr("stroke-width", 5.5).attr("stroke-linecap", "round");
  svg.append("path").attr("d", `M213.5,897L${x2},${y2}L236.5,908`).attr("fill", "none").attr("stroke", "#000").attr("stroke-width", 5.5)
    .attr("stroke-linecap", "round").attr("stroke-linejoin", "miter");
})();
</script>
</body>
</html>
